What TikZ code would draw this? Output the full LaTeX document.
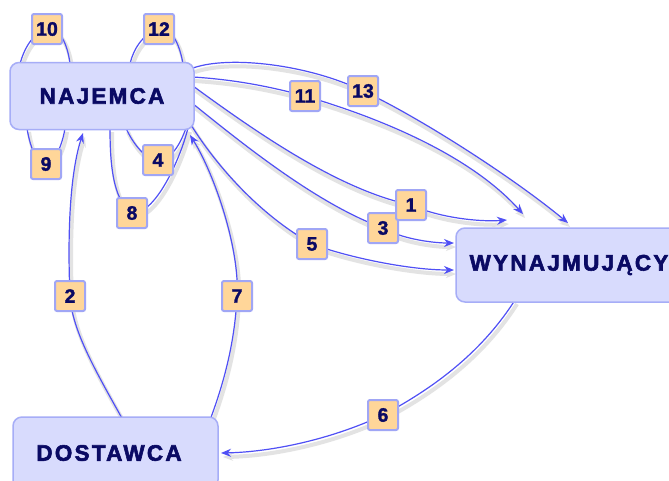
\documentclass[tikz,border=0pt]{standalone}
\usepackage{fontspec}
\newfontfamily\boxfont[LetterSpace=10,FakeBold=2.5]{Liberation Sans Bold}
\newfontfamily\numfont[FakeBold=1.5]{Liberation Sans Bold}
\usetikzlibrary{arrows.meta,calc}
\pgfdeclarelayer{shadowlayer}
\pgfdeclarelayer{edgelayer}
\pgfsetlayers{shadowlayer,edgelayer,main}
\definecolor{boxfill}{RGB}{216,219,253}
\definecolor{boxline}{RGB}{166,173,247}
\definecolor{labfill}{RGB}{255,214,153}
\definecolor{labline}{RGB}{160,166,245}
\definecolor{txtc}{RGB}{10,10,100}
\definecolor{edgec}{RGB}{80,80,245}
\newcommand\conn[2]{%
  \begin{pgfonlayer}{shadowlayer}\draw[shadowline,#1] #2;\end{pgfonlayer}%
  \begin{pgfonlayer}{edgelayer}\draw[edgeline,#1] #2;\end{pgfonlayer}}
\tikzset{
  bigbox/.style={draw=boxline, fill=boxfill, line width=1.5pt, rounded corners=9pt,
    font=\boxfont\fontsize{22.5}{22.5}\selectfont, text=txtc, inner sep=0pt},
  lab/.style={draw=labline, fill=labfill, line width=2pt, rounded corners=2pt,
    minimum size=30pt, inner sep=0pt, font=\numfont\fontsize{19.5}{19.5}\selectfont, text=txtc},
  edgeline/.style={draw=edgec, line width=1.2pt},
  shadowline/.style={draw=black!11, line width=4pt, transform canvas={shift={(2,4)}}},
  tip/.style={-{Stealth[length=10pt,width=8pt]}}
}
\begin{document}
\begin{tikzpicture}[x=1pt,y=-1pt]
\useasboundingbox (0,0) rectangle (669,480);
\clip (0,0) rectangle (669,480);
\begin{pgfonlayer}{shadowlayer}
\fill[white] (0,0) rectangle (669,480);
\end{pgfonlayer}
% main boxes
\node[bigbox, minimum width=184pt, minimum height=67pt] (naj) at (102,96) {NAJEMCA};
\node[bigbox, minimum width=226pt, minimum height=74pt] (wyn) at (569,265) {WYNAJMUJĄCY};
\node[bigbox, minimum width=205pt, minimum height=72pt] (dos) at (115.5,453) {DOSTAWCA\hspace*{13pt}};
% labels
\node[lab] (l10) at (47,29) {10};
\node[lab] (l12) at (159,29) {12};
\node[lab] (l9) at (46,164) {9};
\node[lab] (l4) at (158,160) {4};
\node[lab] (l8) at (132,213) {8};
\node[lab] (l2) at (70,296) {2};
\node[lab] (l7) at (237,296) {7};
\node[lab] (l5) at (312,244) {5};
\node[lab] (l3) at (383,228) {3};
\node[lab] (l1) at (411,205) {1};
\node[lab] (l11) at (305,96) {11};
\node[lab] (l13) at (363,91) {13};
\node[lab] (l6) at (383,415) {6};
% end points
\coordinate (a10) at (20,64);  \coordinate (b10) at (70,64);
\coordinate (a12) at (130,64); \coordinate (b12) at (183,64);
\coordinate (a9) at (27,128);  \coordinate (b9) at (65,128);
\coordinate (a4) at (126,128); \coordinate (b4) at (186,128);
\coordinate (a8) at (110,128); \coordinate (b8) at (188,128);
\coordinate (s13) at (193,68); \coordinate (s11) at (193,77);
\coordinate (s1) at (193,86);  \coordinate (s3) at (192,103);
\coordinate (s5) at (188,120);
\coordinate (t13) at (568,223); \coordinate (t11) at (523,214);
\coordinate (t1) at (507,220);  \coordinate (t3) at (454,243);
\coordinate (t5) at (454,270);
\coordinate (t2) at (83,133);  \coordinate (t7) at (190,135);
\coordinate (s2) at (123,420); \coordinate (s7) at (210,420);
\coordinate (s6) at (515,300); \coordinate (t6) at (221,453);
% loops
\conn{}{(a10) .. controls (24,48) and (34,32) .. (l10.center) .. controls (60,26) and (68,46) .. (b10)}
\conn{}{(a12) .. controls (134,46) and (146,32) .. (l12.center) .. controls (172,26) and (180,46) .. (b12)}
\conn{}{(a9) .. controls (29,142) and (36,166) .. (l9.center) .. controls (56,162) and (63,142) .. (b9)}
\conn{}{(a4) .. controls (132,142) and (145,160) .. (l4.center) .. controls (171,160) and (180,145) .. (b4)}
\conn{}{(a8) .. controls (110,160) and (112,200) .. (l8.center) .. controls (155,215) and (180,160) .. (b8)}
% to WYNAJMUJACY
\conn{tip}{(s13) .. controls (230,55) and (310,65) .. (l13.center) .. controls (415,115) and (510,175) .. (t13)}
\conn{tip}{(s11) .. controls (240,80) and (275,88) .. (l11.center) .. controls (380,118) and (470,155) .. (t11)}
\conn{tip}{(s1) .. controls (260,135) and (340,190) .. (l1.center) .. controls (440,218) and (480,222) .. (t1)}
\conn{tip}{(s3) .. controls (250,150) and (320,205) .. (l3.center) .. controls (400,238) and (430,243) .. (t3)}
\conn{tip}{(s5) .. controls (215,165) and (260,215) .. (l5.center) .. controls (350,258) and (410,270) .. (t5)}
% from DOSTAWCA
\conn{tip}{(s2) .. controls (95,370) and (72,330) .. (l2.center) .. controls (68,250) and (68,180) .. (t2)}
\conn{tip}{(s7) .. controls (225,380) and (235,340) .. (l7.center) .. controls (240,250) and (215,175) .. (t7)}
% to DOSTAWCA
\conn{tip}{(s6) .. controls (480,355) and (430,390) .. (l6.center) .. controls (330,440) and (270,452) .. (t6)}
\end{tikzpicture}
\end{document}
